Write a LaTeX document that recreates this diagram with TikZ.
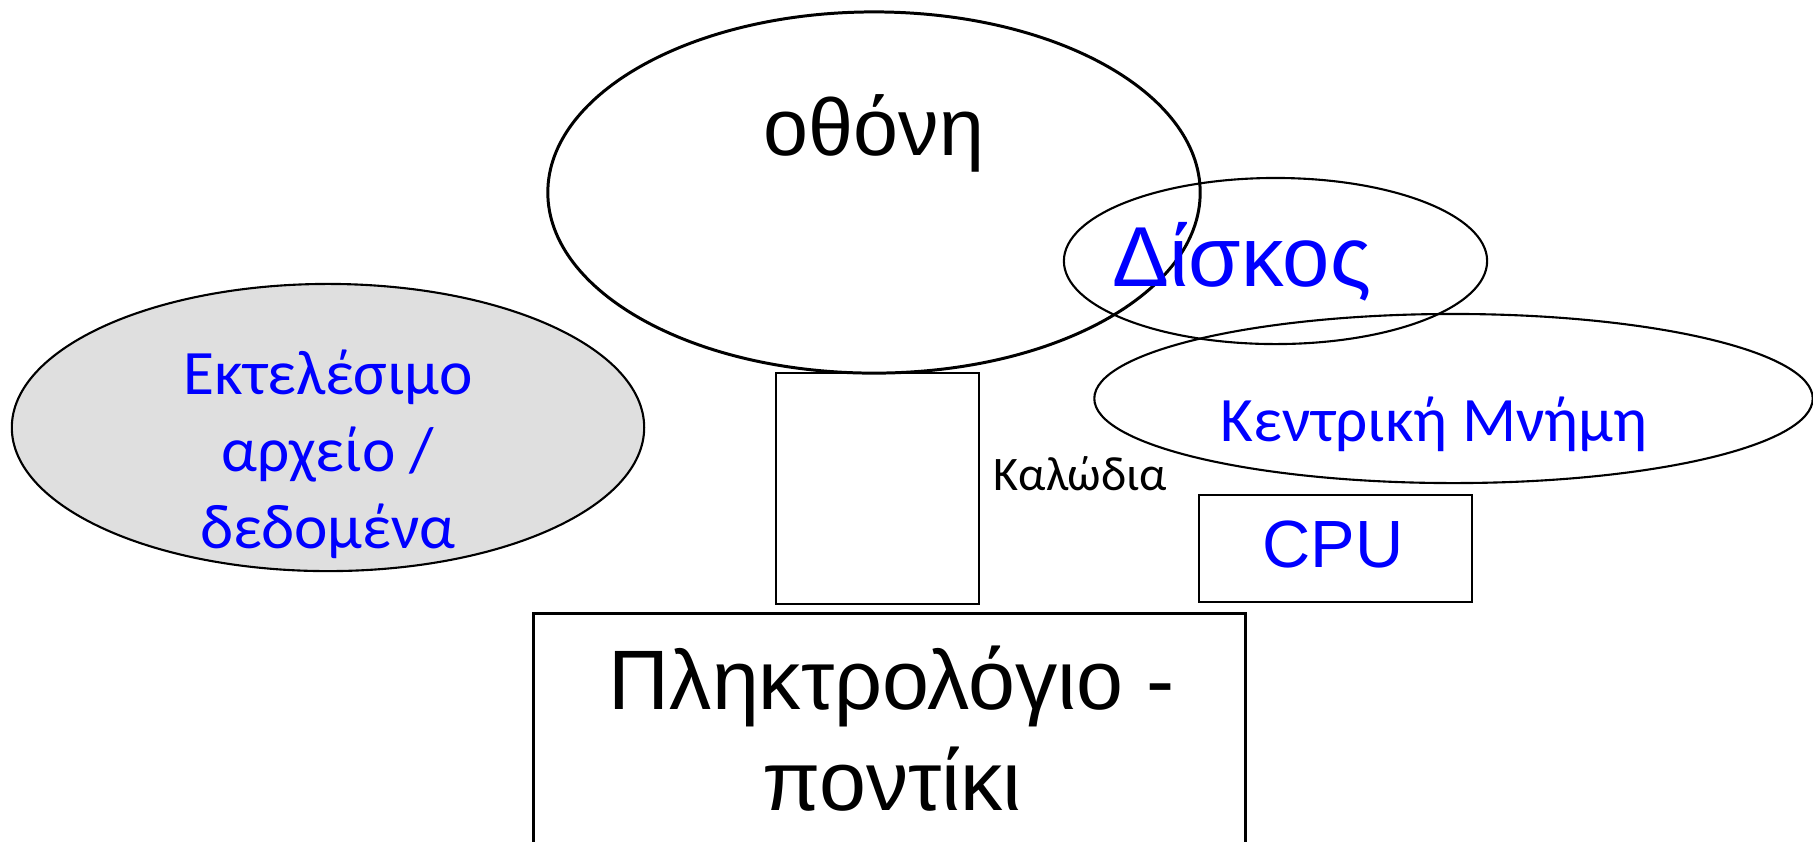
\documentclass[tikz,border=0pt]{standalone}
\usepackage{fontspec}
\setmainfont{Liberation Sans}
\newfontfamily\calibri{Carlito}
\usetikzlibrary{positioning,shapes}
\tikzstyle{oval}=[ellipse, draw, inner sep=0pt, line width=0.6pt]
\tikzstyle{thickoval}=[ellipse, draw, inner sep=0pt, line width=0.85pt]
\tikzstyle{part}=[rectangle, draw, inner sep=0pt, line width=0.7pt]
\tikzstyle{bigtext}=[inner sep=0pt, anchor=base, align=center]
\tikzstyle{smalltext}=[inner sep=0pt, anchor=base, align=center]

\begin{document}
\begin{tikzpicture}[x=0.01cm, y=-0.01cm]
    \useasboundingbox (0,0) rectangle (1813,841);
    \clip (0,0) rectangle (1813,841);

    % program file on the left (base = last line)
    \node (Exec) [oval, fill=gray!25, minimum width=6.32cm,
                  minimum height=2.87cm] at (328,427.5) {};
    \node (ExecText) [smalltext, text=blue,
                      font=\calibri\fontsize{18pt}{21.8pt}\selectfont]
      at (328,548) {Εκτελέσιμο\\αρχείο /\\δεδομένα};

    % the computer
    \node (Screen) [thickoval, minimum width=6.52cm,
                    minimum height=3.61cm] at (874,192.5) {};
    \node (ScreenText) [bigtext, font=\fontsize{23pt}{27pt}\selectfont]
      at (874,155) {οθόνη};

    \node (Disk) [oval, minimum width=4.23cm,
                  minimum height=1.66cm] at (1275.5,261) {};
    \node (DiskText) [bigtext, text=blue,
                      font=\fontsize{24.2pt}{28pt}\selectfont]
      at (1242,286) {Δίσκος};

    \node (Memory) [oval, minimum width=7.18cm,
                    minimum height=1.69cm] at (1453.5,398.5) {};
    \node (MemoryText) [smalltext, text=blue,
                        font=\calibri\fontsize{18pt}{21.8pt}\selectfont]
      at (1434,441) {Κεντρική Μνήμη};

    \node (Tower) [part, minimum width=2.03cm,
                   minimum height=2.31cm] at (877.5,488.5) {};
    \node (Cables) [smalltext, anchor=base west,
                    font=\calibri\fontsize{13.7pt}{16pt}\selectfont]
      at (993,490) {Καλώδια};

    \node (Cpu) [part, line width=0.6pt, minimum width=2.73cm,
                 minimum height=1.07cm] at (1335.5,548.5) {};
    \node (CpuText) [bigtext, text=blue, font=\fontsize{19pt}{22pt}\selectfont]
      at (1333,567) {CPU};

    \node (Keyboard) [part, line width=0.85pt, minimum width=7.11cm,
                      minimum height=2.9cm] at (889.5,759) {};
    \node (KeyboardText) [bigtext, font=\fontsize{24pt}{28.5pt}\selectfont]
      at (892,810) {Πληκτρολόγιο -\\ποντίκι};

\end{tikzpicture}
\end{document}
